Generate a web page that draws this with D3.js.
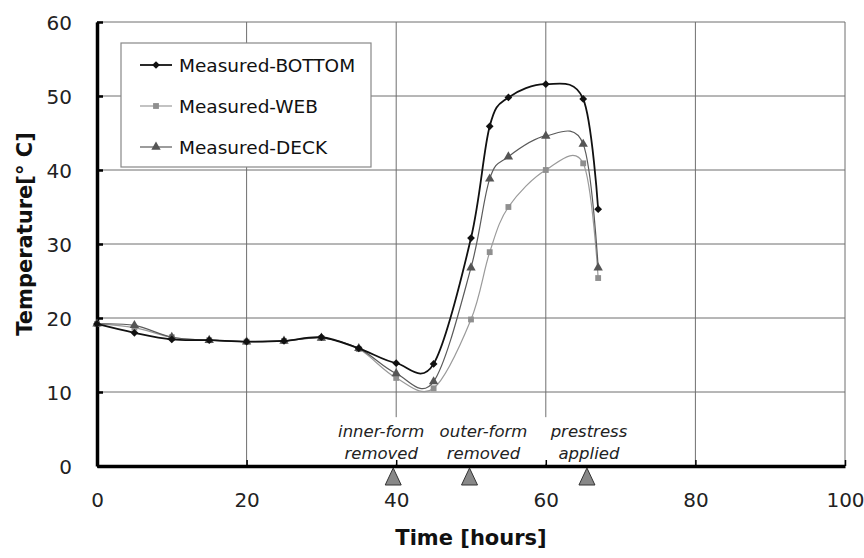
<!DOCTYPE html>
<html>
<head>
<meta charset="utf-8">
<script src="https://cdn.jsdelivr.net/npm/d3@7"></script>
<style>
  html, body { margin: 0; padding: 0; background: #fff; }
  svg { display: block; font-family: "DejaVu Sans", Verdana, sans-serif; }
</style>
</head>
<body>
<svg id="chart" width="864" height="558"></svg>
<script>
// ---- data ----
const time = [0, 5, 10, 15, 20, 25, 30, 35, 40, 45, 50, 52.5, 55, 60, 65, 67];
const bottomTemp = [19.2, 18.0, 17.1, 17.0, 16.8, 16.9, 17.4, 15.9, 13.9, 13.8, 30.8, 45.9, 49.8, 51.6, 49.6, 34.7];
const webTemp    = [19.2, 18.7, 17.4, 17.0, 16.8, 16.9, 17.3, 15.8, 11.9, 10.5, 19.8, 28.9, 35.0, 40.0, 40.9, 25.4];
const deckTemp   = [19.2, 19.0, 17.4, 17.0, 16.8, 16.9, 17.3, 15.9, 12.5, 11.4, 26.8, 38.8, 41.8, 44.6, 43.5, 26.8];
const seriesNames = ["Measured-BOTTOM", "Measured-WEB", "Measured-DECK"];
const xTicks = [0, 20, 40, 60, 80, 100];
const yTicks = [0, 10, 20, 30, 40, 50, 60];
const eventTimes = [39.6, 49.8, 65.5];
const eventLabels = [["inner-form", "removed"], ["outer-form", "removed"], ["prestress", "applied"]];
const xTitle = "Time [hours]";
const yTitle = "Temperature[° C]";

// ---- layout ----
const svg = d3.select("#chart");
const L = 97, R = 845, T = 22, B = 466;
const x = d3.scaleLinear().domain([0, 100]).range([L, R]);
const y = d3.scaleLinear().domain([0, 60]).range([B, T]);
const labelShift = [-12, 14, 2];

// gridlines
const grid = svg.append("g").attr("stroke", "#6f6f6f").attr("stroke-width", 1);
grid.selectAll("line.h").data(yTicks).join("line")
  .attr("x1", L).attr("x2", R).attr("y1", d => y(d)).attr("y2", d => y(d));
grid.selectAll("line.v").data(xTicks).join("line")
  .attr("y1", T).attr("y2", B).attr("x1", d => x(d)).attr("x2", d => x(d));

// white area behind event labels
svg.append("rect")
  .attr("x", x(32)).attr("y", y(6.6))
  .attr("width", x(71) - x(32)).attr("height", y(0.3) - y(6.6))
  .attr("fill", "#fff");

// axes (thick left & bottom)
const xAxis = d3.axisBottom(x).tickValues(xTicks).tickSize(-6).tickPadding(27).tickSizeOuter(0);
const yAxis = d3.axisLeft(y).tickValues(yTicks).tickSize(-6).tickPadding(25).tickSizeOuter(0);
const gx = svg.append("g").attr("transform", `translate(0,${B})`).call(xAxis);
const gy = svg.append("g").attr("transform", `translate(${L},0)`).call(yAxis);
[gx, gy].forEach(g => {
  g.select(".domain").attr("stroke", "#000").attr("stroke-width", 3.5);
  g.selectAll(".tick line").attr("stroke", "#000").attr("stroke-width", 2.5);
  g.selectAll(".tick text").attr("font-family", "DejaVu Sans").attr("font-size", 20).attr("fill", "#222");
});
gx.selectAll(".tick line").attr("stroke-width", 1.5);
gy.selectAll(".tick text").attr("dy", "0.35em");

// axis titles
svg.append("text").attr("x", (L + R) / 2).attr("y", 545)
  .attr("text-anchor", "middle").attr("font-weight", "bold").attr("font-size", 21).attr("fill", "#111")
  .text(xTitle);
svg.append("text").attr("transform", `translate(32,${(T + B) / 2 - 10}) rotate(-90)`)
  .attr("text-anchor", "middle").attr("font-weight", "bold").attr("font-size", 21).attr("fill", "#111")
  .text(yTitle);

// series
const styles = [
  { vals: bottomTemp, stroke: "#111", width: 1.8, fill: "#111", sym: d3.symbolSquare, size: 30, rot: 45 },
  { vals: webTemp,    stroke: "#9a9a9a", width: 1.2, fill: "#8f8f8f", sym: d3.symbolSquare, size: 34, rot: 0 },
  { vals: deckTemp,   stroke: "#5a5a5a", width: 1.2, fill: "#555", sym: d3.symbolTriangle, size: 38, rot: 0 }
];
const line = d3.line().curve(d3.curveCatmullRom.alpha(0)).x(d => x(d[0])).y(d => y(d[1]));
const drawOrder = [1, 2, 0];
drawOrder.forEach(i => {
  const s = styles[i];
  const pts = time.map((t, k) => [t, s.vals[k]]);
  svg.append("path").datum(pts).attr("d", line)
    .attr("fill", "none").attr("stroke", s.stroke).attr("stroke-width", s.width);
  svg.append("g").selectAll("path").data(pts).join("path")
    .attr("d", d3.symbol().type(s.sym).size(s.size))
    .attr("transform", d => `translate(${x(d[0])},${y(d[1])}) rotate(${s.rot})`)
    .attr("fill", s.fill);
});

// legend
const lg = svg.append("g");
lg.append("rect").attr("x", 121).attr("y", 43).attr("width", 250).attr("height", 124)
  .attr("fill", "#fff").attr("stroke", "#888").attr("stroke-width", 1.2);
seriesNames.forEach((name, i) => {
  const s = styles[i];
  const cy = 65 + i * 41;
  lg.append("line").attr("x1", 140).attr("x2", 172).attr("y1", cy).attr("y2", cy)
    .attr("stroke", s.stroke).attr("stroke-width", s.width);
  lg.append("path").attr("d", d3.symbol().type(s.sym).size(s.size))
    .attr("transform", `translate(156,${cy}) rotate(${s.rot})`).attr("fill", s.fill);
  lg.append("text").attr("x", 179).attr("y", cy).attr("dy", "0.36em")
    .attr("font-size", 18.5).attr("fill", "#111").text(name);
});

// event markers
eventTimes.forEach((t, i) => {
  const cx = x(t);
  svg.append("path")
    .attr("d", `M${cx},${B + 2}L${cx + 8},${B + 19}L${cx - 8},${B + 19}Z`)
    .attr("fill", "#888").attr("stroke", "#333").attr("stroke-width", 1);
  eventLabels[i].forEach((txt, j) => {
    svg.append("text").attr("x", cx + labelShift[i]).attr("y", 437 + j * 22)
      .attr("text-anchor", "middle").attr("font-style", "italic").attr("font-size", 16.5)
      .attr("fill", "#222").text(txt);
  });
});
</script>
</body>
</html>
